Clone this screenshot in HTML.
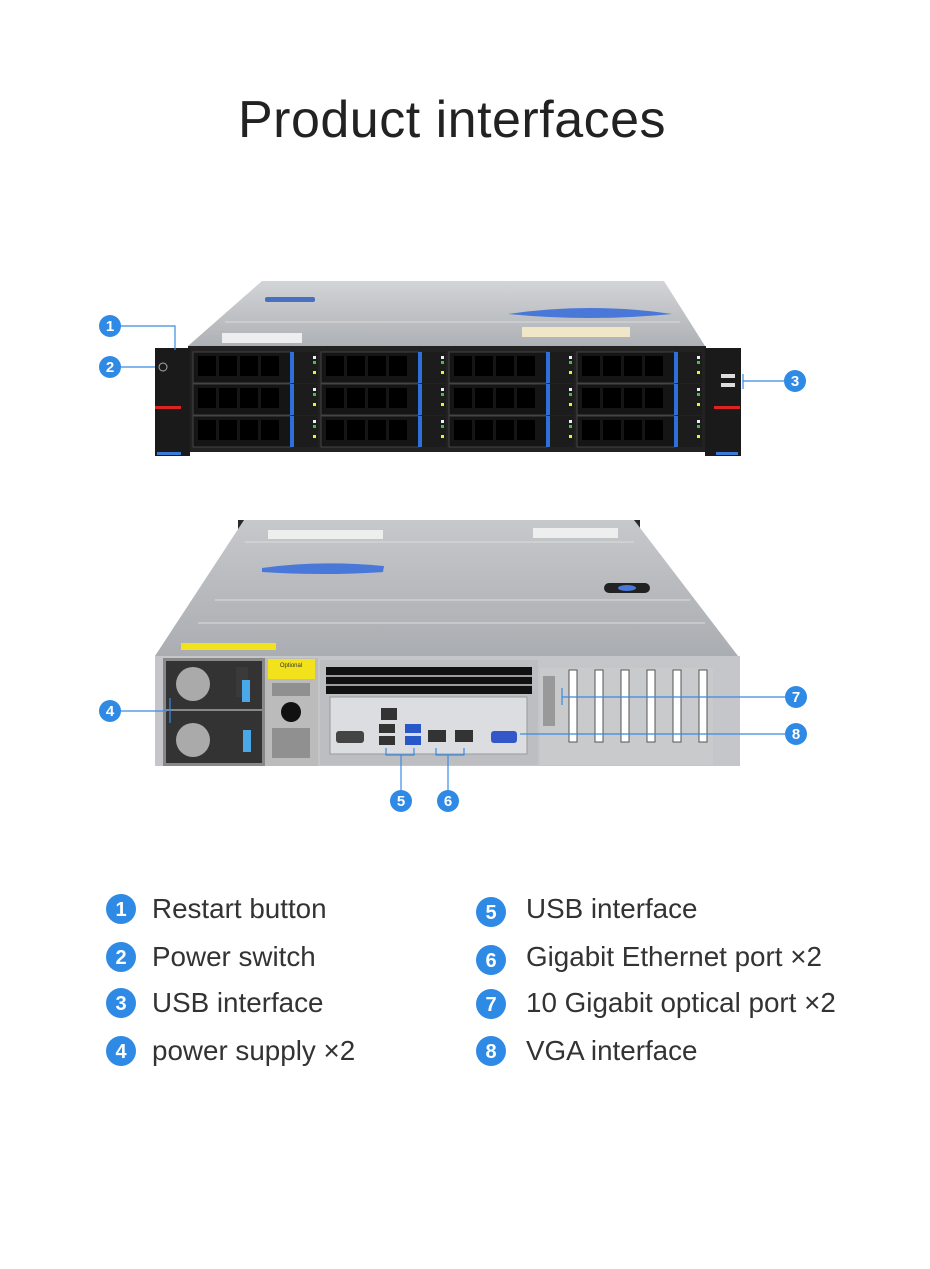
<!DOCTYPE html>
<html><head><meta charset="utf-8"><style>
body{margin:0;background:#fff;width:930px;height:1264px;overflow:hidden;font-family:"Liberation Sans",sans-serif}
</style></head><body>
<svg width="930" height="1264" viewBox="0 0 930 1264" xmlns="http://www.w3.org/2000/svg" font-family="Liberation Sans, sans-serif">
<text x="452" y="137" text-anchor="middle" font-size="52" fill="#222" letter-spacing="0.5">Product interfaces</text>
<defs>
<linearGradient id="top" x1="0" y1="0" x2="0" y2="1"><stop offset="0" stop-color="#d2d4d7"/><stop offset="1" stop-color="#aeb1b5"/></linearGradient>
<linearGradient id="top2" x1="0" y1="0" x2="0" y2="1"><stop offset="0" stop-color="#c6c8cb"/><stop offset="1" stop-color="#aaadb1"/></linearGradient>
</defs>
<!-- FRONT SERVER -->
<polygon points="262,281 664,281 705,346 188,346" fill="url(#top)"/>
<line x1="225" y1="322" x2="680" y2="322" stroke="#d9dbde"/>
<rect x="265" y="297" width="50" height="5" rx="2" fill="#4a6fc0"/>
<path d="M508,314 Q590,302 672,314 Q590,322 508,314Z" fill="#4a78d8"/>
<rect x="522" y="327" width="108" height="10" fill="#f0e6c8"/>
<rect x="222" y="333" width="80" height="10" fill="#eee"/>
<rect x="188" y="346" width="518" height="106" fill="#222"/>
<g id="row">
<rect x="193" y="352" width="98" height="31" fill="#151515" stroke="#444"/>
<rect x="198" y="356" width="18" height="20" fill="#000"/><rect x="219" y="356" width="18" height="20" fill="#000"/><rect x="240" y="356" width="18" height="20" fill="#000"/><rect x="261" y="356" width="18" height="20" fill="#000"/>
<rect x="290" y="352" width="4" height="31" fill="#2f6fd8"/>
<rect x="294" y="352" width="24" height="31" fill="#1c1c1c"/>
<rect x="313" y="356" width="3" height="3" fill="#eee"/><rect x="313" y="361" width="3" height="3" fill="#3c3"/><rect x="313" y="371" width="3" height="3" fill="#ee3"/>
</g>
<use href="#row" x="128"/><use href="#row" x="256"/><use href="#row" x="384"/>
<use href="#row" y="32"/><use href="#row" x="128" y="32"/><use href="#row" x="256" y="32"/><use href="#row" x="384" y="32"/>
<use href="#row" y="64"/><use href="#row" x="128" y="64"/><use href="#row" x="256" y="64"/><use href="#row" x="384" y="64"/>
<rect x="155" y="348" width="35" height="108" fill="#1a1a1a"/>
<rect x="155" y="406" width="26" height="3" fill="#d22"/><rect x="157" y="452" width="24" height="3" fill="#3a7ad8"/>
<circle cx="163" cy="367" r="4" fill="none" stroke="#aaa"/>
<rect x="705" y="348" width="36" height="108" fill="#1a1a1a"/>
<rect x="714" y="406" width="26" height="3" fill="#d22"/><rect x="716" y="452" width="22" height="3" fill="#3a7ad8"/>
<rect x="721" y="374" width="14" height="4" fill="#ddd"/><rect x="721" y="383" width="14" height="4" fill="#ddd"/>
<!-- BACK SERVER -->
<rect x="238" y="520" width="402" height="20" fill="#2a2a2a"/>
<polygon points="244,520 634,520 738,656 155,656" fill="url(#top2)"/>
<line x1="245" y1="542" x2="634" y2="542" stroke="#ddd"/>
<line x1="215" y1="600" x2="690" y2="600" stroke="#ddd"/>
<line x1="198" y1="623" x2="705" y2="623" stroke="#ddd"/>
<rect x="268" y="530" width="115" height="9" fill="#eee"/><rect x="533" y="528" width="85" height="10" fill="#eee"/>
<path d="M262,568 Q320,560 384,566 L383,572 Q320,576 262,572Z" fill="#4a78d8"/>
<rect x="604" y="583" width="46" height="10" rx="5" fill="#222"/><ellipse cx="627" cy="588" rx="9" ry="3" fill="#4a78d8"/>
<rect x="155" y="656" width="585" height="110" fill="#c4c6c9"/>
<rect x="181" y="643" width="95" height="7" fill="#f2e21c"/>
<rect x="163" y="658" width="102" height="108" fill="#888"/>
<rect x="166" y="661" width="96" height="48" fill="#333"/><rect x="166" y="711" width="96" height="52" fill="#333"/>
<circle cx="193" cy="684" r="17" fill="#aaa"/><circle cx="193" cy="740" r="17" fill="#aaa"/>
<rect x="236" y="667" width="12" height="30" fill="#3a3a3a"/><rect x="242" y="680" width="8" height="22" fill="#4aa8e8"/><rect x="243" y="730" width="8" height="22" fill="#4aa8e8"/>
<rect x="265" y="658" width="53" height="108" fill="#bbb"/>
<rect x="268" y="659" width="47" height="20" fill="#f2e21c"/>
<text x="291" y="667" font-size="6" text-anchor="middle" fill="#333">Optional</text>
<rect x="272" y="683" width="38" height="13" fill="#666" opacity=".5"/><circle cx="291" cy="712" r="10" fill="#111"/><rect x="272" y="728" width="38" height="30" fill="#666" opacity=".5"/>
<rect x="320" y="660" width="218" height="105" fill="#bcbec1"/>
<rect x="326" y="667" width="206" height="27" fill="#111"/>
<g stroke="#ccc" stroke-width="1.5"><path d="M326,676H532M326,685H532"/></g>
<rect x="330" y="697" width="197" height="57" fill="#dcdde0" stroke="#999"/>
<rect x="381" y="708" width="16" height="12" fill="#333"/>
<rect x="379" y="724" width="16" height="9" fill="#333"/><rect x="379" y="736" width="16" height="9" fill="#333"/>
<rect x="405" y="724" width="16" height="9" fill="#2857c8"/><rect x="405" y="736" width="16" height="9" fill="#2857c8"/>
<rect x="428" y="730" width="18" height="12" fill="#333"/><rect x="455" y="730" width="18" height="12" fill="#333"/>
<rect x="336" y="731" width="28" height="12" rx="3" fill="#444"/><rect x="491" y="731" width="26" height="12" rx="3" fill="#3356c8"/>
<rect x="540" y="668" width="173" height="97" fill="#c8cacc"/>
<g fill="#fff" stroke="#555"><rect x="569" y="670" width="8" height="72"/><rect x="595" y="670" width="8" height="72"/><rect x="621" y="670" width="8" height="72"/><rect x="647" y="670" width="8" height="72"/><rect x="673" y="670" width="8" height="72"/><rect x="699" y="670" width="8" height="72"/></g>
<rect x="543" y="676" width="12" height="50" fill="#999"/>
<!-- connectors -->
<g stroke="#3a8be4" stroke-width="1.2" fill="none">
<path d="M121,326H175V350"/><path d="M121,367H155"/><path d="M784,381H743M743,374V389"/>
<path d="M121,711H167M170,698V723"/>
<path d="M401,790V755M386,748V755H414V748"/><path d="M448,790V755M436,748V755H464V748"/>
<path d="M785,697H562M562,688V705"/><path d="M785,734H520"/>
</g>
<g fill="#2f8ae5">
<circle cx="110" cy="326" r="11"/><circle cx="110" cy="367" r="11"/><circle cx="795" cy="381" r="11"/><circle cx="110" cy="711" r="11"/>
<circle cx="401" cy="801" r="11"/><circle cx="448" cy="801" r="11"/><circle cx="796" cy="697" r="11"/><circle cx="796" cy="734" r="11"/>
</g>
<g fill="#fff" font-size="15" font-weight="bold" text-anchor="middle">
<text x="110" y="331">1</text><text x="110" y="372">2</text><text x="795" y="386">3</text><text x="110" y="716">4</text>
<text x="401" y="806">5</text><text x="448" y="806">6</text><text x="796" y="702">7</text><text x="796" y="739">8</text>
</g>
<!-- legend -->
<g fill="#2f8ae5">
<circle cx="121" cy="909" r="15"/><circle cx="121" cy="957" r="15"/><circle cx="121" cy="1003" r="15"/><circle cx="121" cy="1051" r="15"/>
<circle cx="491" cy="912" r="15"/><circle cx="491" cy="960" r="15"/><circle cx="491" cy="1004" r="15"/><circle cx="491" cy="1051" r="15"/>
</g>
<g fill="#fff" font-size="20" font-weight="bold" text-anchor="middle">
<text x="121" y="916">1</text><text x="121" y="964">2</text><text x="121" y="1010">3</text><text x="121" y="1058">4</text>
<text x="491" y="919">5</text><text x="491" y="967">6</text><text x="491" y="1011">7</text><text x="491" y="1058">8</text>
</g>
<g fill="#333" font-size="27.8">
<text x="152" y="918">Restart button</text><text x="152" y="966">Power switch</text><text x="152" y="1012">USB interface</text><text x="152" y="1060">power supply ×2</text>
<text x="526" y="918">USB interface</text><text x="526" y="966">Gigabit Ethernet port ×2</text><text x="526" y="1012">10 Gigabit optical port ×2</text><text x="526" y="1060">VGA interface</text>
</g>
</svg>
</body></html>
